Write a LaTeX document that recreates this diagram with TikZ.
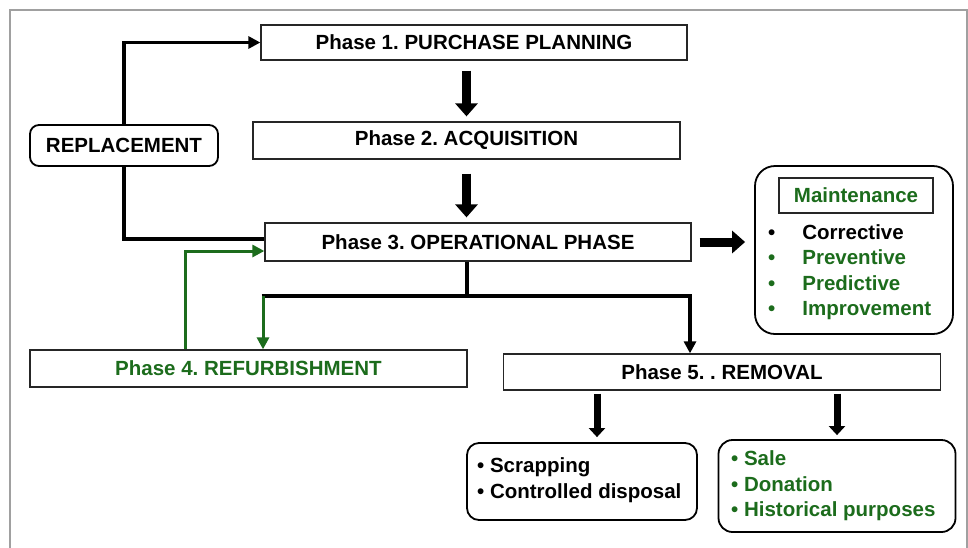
\documentclass[tikz,border=0pt]{standalone}
\usepackage{fontspec}
\setmainfont{Liberation Sans}
\usetikzlibrary{arrows.meta}
\definecolor{leafgreen}{RGB}{28,108,28}
\definecolor{framegray}{RGB}{160,160,160}
\frenchspacing
\begin{document}
\begin{tikzpicture}[x=1pt,y=-1pt,
  every node/.style={font=\fontsize{20.5}{25.5}\selectfont\bfseries, inner sep=0pt},
  phasebox/.style={draw=black!85, line width=1.3pt, fill=white, rectangle},
  roundbox/.style={draw=black, line width=1.8pt, fill=white, rounded corners=#1},
  roundbox/.default=10pt,
  blockarrow/.style={line width=9pt, -{Triangle[width=22pt,length=13pt]}},
  smallblock/.style={line width=7pt, -{Triangle[width=16pt,length=9pt]}},
  trunk/.style={line width=3.6pt, black},
  link/.style={line width=3.6pt, black, -{Triangle[width=12pt,length=12pt]}},
  greenlink/.style={line width=3pt, leafgreen, -{Triangle[width=12pt,length=12pt]}},
]
\useasboundingbox (0,0) rectangle (968,547);
\fill[white] (0,0) rectangle (968,547);
% outer frame
\draw[framegray, line width=2pt] (10,560) -- (10,9.5) -- (967,9.5) -- (967,560);

% phase boxes
\node[phasebox, minimum width=426pt, minimum height=35pt] (p1) at (474,42.5) {Phase 1. PURCHASE PLANNING};
\node[phasebox, minimum width=427pt, minimum height=37pt] (p2) at (466.5,140.5) {Phase 2. ACQUISITION};
\node[phasebox, minimum width=426pt, minimum height=38pt] (p3) at (478,242) {Phase 3. OPERATIONAL PHASE};
\node[phasebox, minimum width=437pt, minimum height=37pt, text=leafgreen] (p4) at (248.5,368.5) {Phase 4. REFURBISHMENT};
\node[phasebox, minimum width=437pt, minimum height=36pt] (p5) at (722,372) {Phase 5. . REMOVAL};
\node[roundbox=9pt, minimum width=188pt, minimum height=41pt] (repl) at (124,145.5) {REPLACEMENT};

% maintenance panel
\node[roundbox=20pt, minimum width=198pt, minimum height=168pt] (maint) at (854,250) {};
\node[phasebox, minimum width=154pt, minimum height=35pt, text=leafgreen] (mtitle) at (856,195.5) {Maintenance};
\node[anchor=west] (mlist) at (768,272.5) {\baselineskip=25.5pt
  \begin{tabular}{@{}c@{\hspace{27pt}}l@{}}
  \textbullet & Corrective\\
  \color{leafgreen}\textbullet & \color{leafgreen}Preventive\\
  \color{leafgreen}\textbullet & \color{leafgreen}Predictive\\
  \color{leafgreen}\textbullet & \color{leafgreen}Improvement
  \end{tabular}};

% removal outcomes
\node[roundbox=12pt, minimum width=230pt, minimum height=77pt] (scrap) at (582,481.5) {};
\node[anchor=west, align=left] (scraptext) at (477,480) {\textbullet{} Scrapping\\\textbullet{} Controlled disposal};
\node[roundbox=14pt, minimum width=237pt, minimum height=92pt] (sale) at (837,486) {};
\node[anchor=west, align=left, text=leafgreen] (saletext) at (731,486) {\textbullet{} Sale\\\textbullet{} Donation\\\textbullet{} Historical purposes};

% main sequence
\draw[blockarrow, shorten <=10pt, shorten >=5pt] (p2.north |- p1.south) -- (p2.north);
\draw[blockarrow, shorten <=14pt, shorten >=5pt] (p2.south) -- (p2.south |- p3.north);
\draw[blockarrow, shorten <=8pt, shorten >=9pt] (p3.east) -- (p3.east -| maint.west);

% replacement loop
\draw[link] (repl.north) |- (p1.west);
\draw[trunk] (repl.south) |- ([yshift=3pt]p3.west);

% refurbishment loop back into operation
\draw[greenlink] ([xshift=-63.5pt]p4.north) |- ([yshift=-9pt]p3.west);

% branch from operation to phases 4 and 5
\coordinate (fork) at (467,296);
\coordinate (forkL) at (263,296);
\coordinate (forkR) at (690,296);
\draw[trunk] (fork |- p3.south) -- (fork);
\draw[trunk] ([xshift=-1.5pt]forkL) -- ([xshift=1.5pt]forkR);
\draw[greenlink] (forkL) -- (forkL |- p4.north);
\draw[link] (forkR) -- (forkR |- p5.north);

% removal outcomes
\draw[smallblock, shorten <=3pt, shorten >=5pt] (p5.south -| scrap.north) ++(15pt,0) coordinate (a1) -- (a1 |- scrap.north);
\draw[smallblock, shorten <=3pt, shorten >=4pt] (p5.south -| sale.north) coordinate (a2) -- (a2 |- sale.north);
\end{tikzpicture}
\end{document}
